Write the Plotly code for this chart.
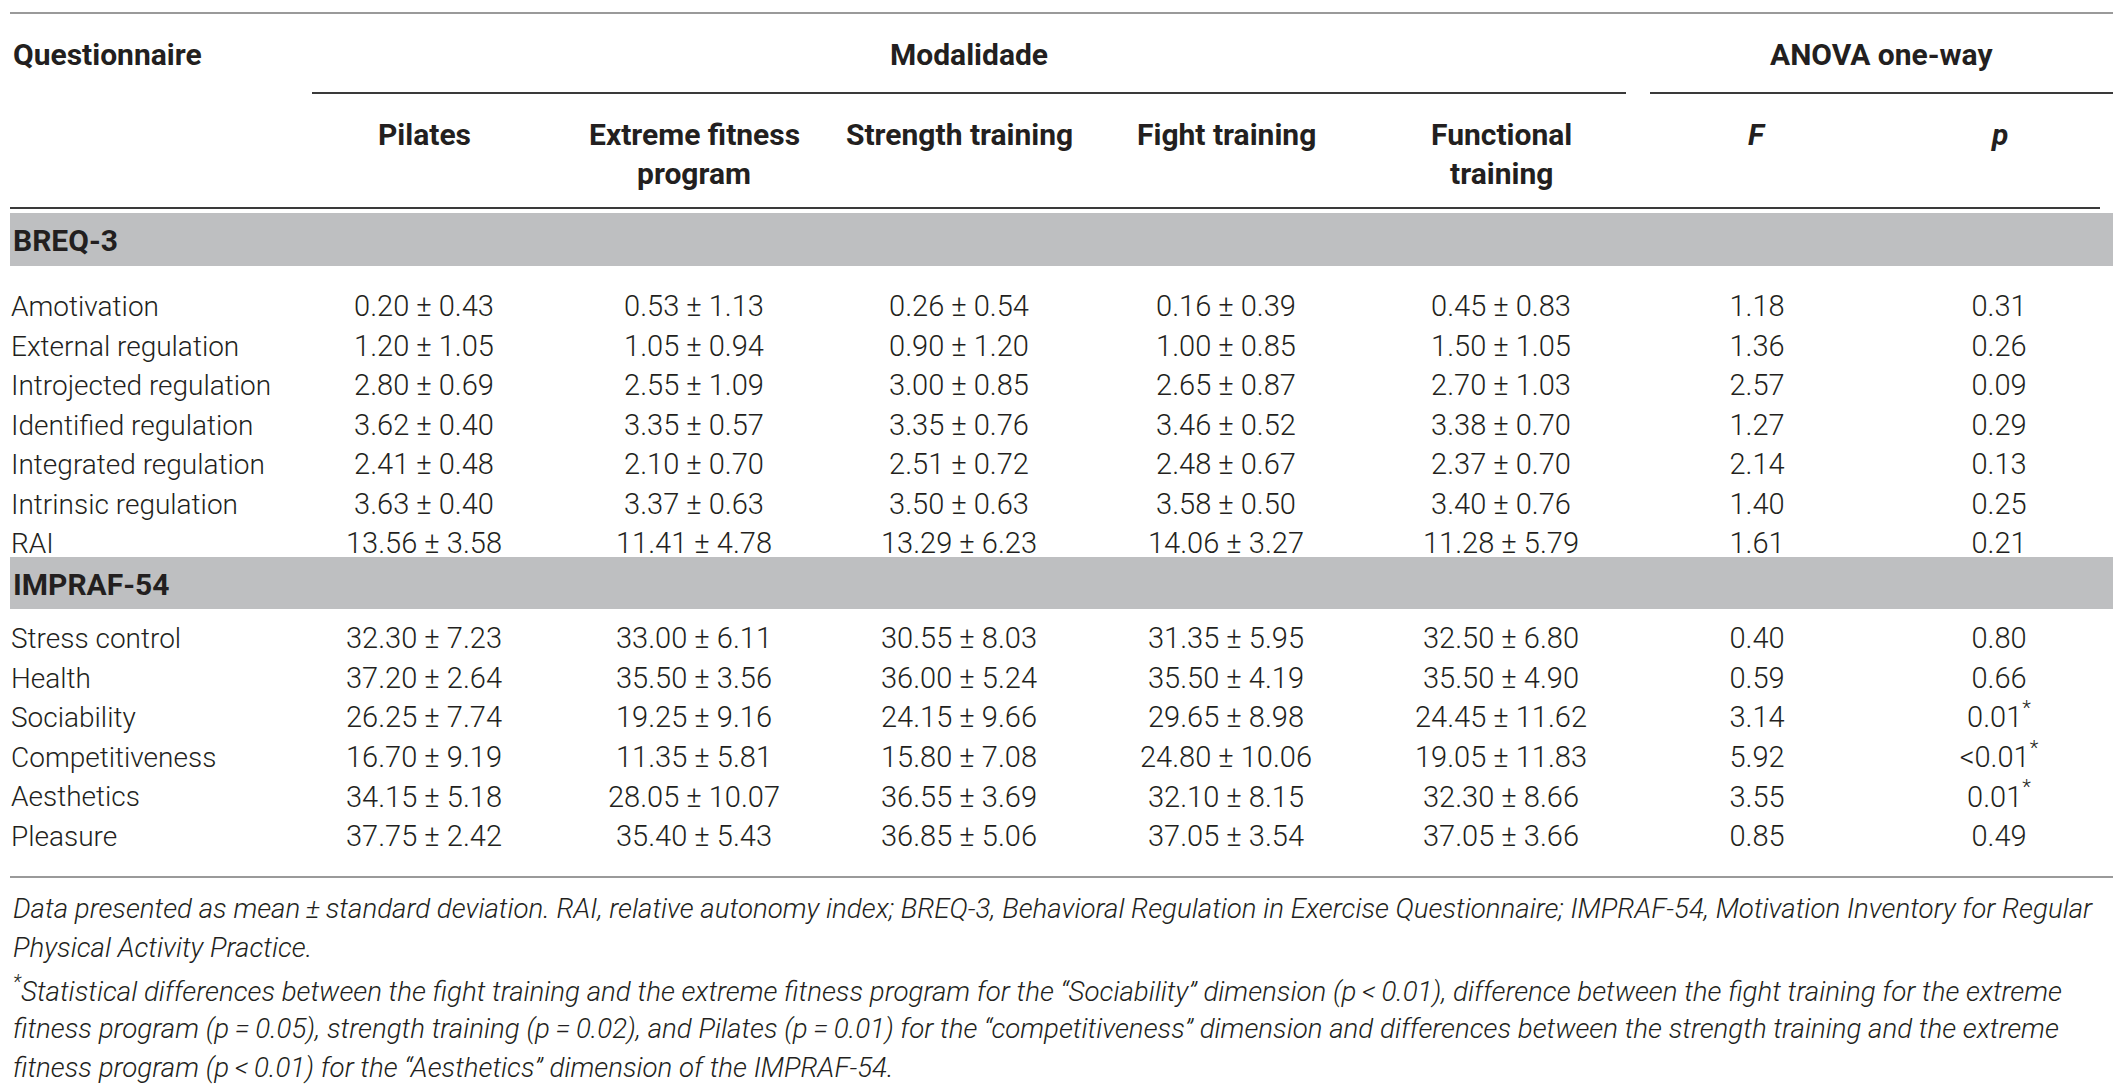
import plotly.graph_objects as go

# ---- data -------------------------------------------------------------
modalities = ["Pilates", "Extreme fitness\nprogram", "Strength training",
              "Fight training", "Functional\ntraining"]

breq_items = ["Amotivation", "External regulation", "Introjected regulation",
              "Identified regulation", "Integrated regulation",
              "Intrinsic regulation", "RAI"]
impraf_items = ["Stress control", "Health", "Sociability", "Competitiveness",
                "Aesthetics", "Pleasure"]

# mean / sd per modality, BREQ-3 rows first then IMPRAF-54 rows
pilates_mean = [0.20, 1.20, 2.80, 3.62, 2.41, 3.63, 13.56,
                32.30, 37.20, 26.25, 16.70, 34.15, 37.75]
pilates_sd = [0.43, 1.05, 0.69, 0.40, 0.48, 0.40, 3.58,
              7.23, 2.64, 7.74, 9.19, 5.18, 2.42]
extreme_mean = [0.53, 1.05, 2.55, 3.35, 2.10, 3.37, 11.41,
                33.00, 35.50, 19.25, 11.35, 28.05, 35.40]
extreme_sd = [1.13, 0.94, 1.09, 0.57, 0.70, 0.63, 4.78,
              6.11, 3.56, 9.16, 5.81, 10.07, 5.43]
strength_mean = [0.26, 0.90, 3.00, 3.35, 2.51, 3.50, 13.29,
                 30.55, 36.00, 24.15, 15.80, 36.55, 36.85]
strength_sd = [0.54, 1.20, 0.85, 0.76, 0.72, 0.63, 6.23,
               8.03, 5.24, 9.66, 7.08, 3.69, 5.06]
fight_mean = [0.16, 1.00, 2.65, 3.46, 2.48, 3.58, 14.06,
              31.35, 35.50, 29.65, 24.80, 32.10, 37.05]
fight_sd = [0.39, 0.85, 0.87, 0.52, 0.67, 0.50, 3.27,
            5.95, 4.19, 8.98, 10.06, 8.15, 3.54]
functional_mean = [0.45, 1.50, 2.70, 3.38, 2.37, 3.40, 11.28,
                   32.50, 35.50, 24.45, 19.05, 32.30, 37.05]
functional_sd = [0.83, 1.05, 1.03, 0.70, 0.70, 0.76, 5.79,
                 6.80, 4.90, 11.62, 11.83, 8.66, 3.66]
f_values = [1.18, 1.36, 2.57, 1.27, 2.14, 1.40, 1.61,
            0.40, 0.59, 3.14, 5.92, 3.55, 0.85]
p_labels = ["0.31", "0.26", "0.09", "0.29", "0.13", "0.25", "0.21",
            "0.80", "0.66", "0.01<sup>*</sup>", "<0.01<sup>*</sup>",
            "0.01<sup>*</sup>", "0.49"]

footnotes = [
    "Data presented as mean\u2009±\u2009standard deviation. RAI, relative autonomy index; "
    "BREQ-3, Behavioral Regulation in Exercise Questionnaire; IMPRAF-54, Motivation Inventory for Regular",
    "Physical Activity Practice.",
    "<sup>*</sup>Statistical differences between the fight training and the extreme fitness program "
    "for the “Sociability” dimension (p\u2009<\u20090.01), difference between the fight training for the extreme",
    "fitness program (p\u2009=\u20090.05), strength training (p\u2009=\u20090.02), and Pilates (p\u2009=\u20090.01) "
    "for the “competitiveness” dimension and differences between the strength training and the extreme",
    "fitness program (p\u2009<\u20090.01) for the “Aesthetics” dimension of the IMPRAF-54.",
]

# ---- layout constants ---------------------------------------------------
W, H = 2125, 1085
INK = "#231f20"
BAND = "#bebfc1"
col_x = [424, 694, 959, 1226, 1501]
f_x, p_x = 1757, 1999
label_x = 11

breq_y = [309 + 39.5 * i for i in range(len(breq_items))]
impraf_y = [641 + 39.6 * i for i in range(len(impraf_items))]
row_y = breq_y + impraf_y
items = breq_items + impraf_items

label_font = dict(family="Roboto", size=28, color=INK, weight=300)
cell_font = dict(family="Roboto", size=29, color=INK, weight=300)
bold = dict(family="Roboto", size=30, color=INK, weight=700)


def text_trace(x, ys, texts, font, pos="middle center"):
    return go.Scatter(x=[x] * len(ys), y=ys, text=texts, mode="text",
                      textposition=pos, textfont=font, hoverinfo="skip",
                      showlegend=False, cliponaxis=False)


fig = go.Figure()

# row labels
fig.add_trace(text_trace(label_x, row_y, items, label_font, "middle right"))

# cell values
means = [pilates_mean, extreme_mean, strength_mean, fight_mean, functional_mean]
sds = [pilates_sd, extreme_sd, strength_sd, fight_sd, functional_sd]
for x, m, s in zip(col_x, means, sds):
    cells = ["%.2f ± %.2f" % (a, b) for a, b in zip(m, s)]
    fig.add_trace(text_trace(x, row_y, cells, cell_font))
fig.add_trace(text_trace(f_x, row_y, ["%.2f" % v for v in f_values], cell_font))
fig.add_trace(text_trace(p_x, row_y, p_labels, cell_font))

# section bands
for (y0, y1), name in [((213, 266), "BREQ-3"), ((557, 609), "IMPRAF-54")]:
    fig.add_shape(type="rect", x0=10, x1=2113, y0=y0, y1=y1,
                  fillcolor=BAND, line_width=0, layer="below")
    fig.add_annotation(x=label_x, y=(y0 + y1) / 2 + 1, text=name, showarrow=False,
                       xanchor="left", yanchor="middle", font=bold)

# header
fig.add_annotation(x=label_x, y=54, text="Questionnaire", showarrow=False,
                   xanchor="left", yanchor="middle", font=bold)
fig.add_annotation(x=(312 + 1626) / 2, y=54, text="Modalidade", showarrow=False,
                   yanchor="middle", font=bold)
fig.add_annotation(x=(1650 + 2113) / 2, y=54, text="ANOVA one-way", showarrow=False,
                   yanchor="middle", font=bold)
for x, name in zip(col_x, modalities):
    for k, line in enumerate(name.split("\n")):
        fig.add_annotation(x=x, y=134 + 39 * k, text=line, showarrow=False,
                           yanchor="middle", font=bold)
for x, name in [(f_x, "F"), (p_x, "p")]:
    fig.add_annotation(x=x, y=134, text=name, showarrow=False, yanchor="middle",
                       font=dict(bold, style="italic"))

# rules
fig.add_shape(type="line", x0=10, x1=2113, y0=13, y1=13,
              line=dict(color="#9a9a9a", width=2))
fig.add_shape(type="line", x0=312, x1=1626, y0=93, y1=93,
              line=dict(color="#3a3a3a", width=2))
fig.add_shape(type="line", x0=1650, x1=2113, y0=93, y1=93,
              line=dict(color="#3a3a3a", width=2))
fig.add_shape(type="line", x0=10, x1=2100, y0=208, y1=208,
              line=dict(color="#3a3a3a", width=2))
fig.add_shape(type="line", x0=10, x1=2113, y0=877, y1=877,
              line=dict(color="#9a9a9a", width=2))

# footnotes
foot_y = [908, 947, 989, 1028, 1067]
for y, line in zip(foot_y, footnotes):
    fig.add_annotation(x=label_x, y=y, text=line, showarrow=False,
                       xanchor="left", yanchor="middle",
                       font=dict(family="Roboto", size=27.7, color=INK,
                                 weight=300, style="italic"))

fig.update_layout(
    width=W, height=H, margin=dict(l=0, r=0, t=0, b=0),
    paper_bgcolor="white", plot_bgcolor="white",
    xaxis=dict(range=[0, W], visible=False, fixedrange=True),
    yaxis=dict(range=[H, 0], visible=False, fixedrange=True),
)

fig.write_html("out.html",
               config={"displayModeBar": False},
               post_script="document.body.style.margin='0';"
                           "document.body.style.overflow='hidden';")
